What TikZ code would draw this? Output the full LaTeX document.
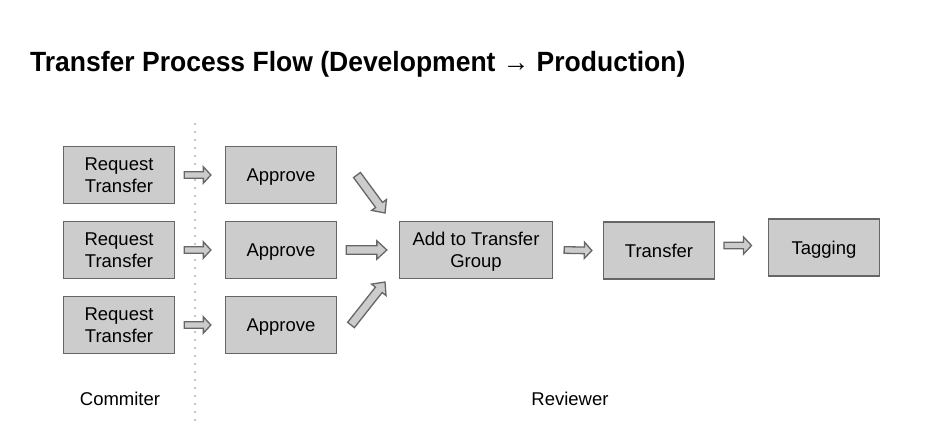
\documentclass[tikz,border=0pt]{standalone}
\usepackage{fontspec}
\setmainfont{Liberation Sans}
\usetikzlibrary{calc}
\definecolor{boxfill}{RGB}{204,204,204}
\definecolor{boxline}{RGB}{102,102,102}
\definecolor{dotcol}{RGB}{140,140,140}
% block arrow from #1 to #2, shaft half width #3, head half width #4, head length #5
\newcommand{\blockarr}[5]{%
  \coordinate (ba-h) at ($(#2)!#5!(#1)$);
  \draw[fatarrow] ($(#1)!#3!90:(#2)$) -- ($(ba-h)!#3!90:(#2)$) -- ($(ba-h)!#4!90:(#2)$) -- (#2)
    -- ($(ba-h)!#4!-90:(#2)$) -- ($(ba-h)!#3!-90:(#2)$) -- ($(#1)!#3!-90:(#2)$) -- cycle;}
\begin{document}
\begin{tikzpicture}[x=1pt,y=-1pt,
  box/.style={draw=boxline, fill=boxfill, line width=1.3pt, minimum width=111pt,
    minimum height=57pt, inner sep=0pt, align=center, text depth=0pt,
    font=\fontsize{18.5}{21.7}\selectfont},
  fatarrow/.style={draw=boxline, fill=boxfill, line width=1.3pt, line join=miter},
  lbl/.style={font=\fontsize{18.5}{21.7}\selectfont, anchor=base, inner sep=0pt},
  divider/.style={draw=dotcol, line width=1.8pt, line cap=round, dash pattern=on 0pt off 8pt}]
\useasboundingbox (0,0) rectangle (927,446);
% title
\node[anchor=base west, inner sep=0pt, font=\fontsize{26.5}{30}\selectfont\bfseries] (title) at (30,72)
  {\scalebox{1}[1.05]{Transfer Process Flow (Development → Production)}};
% divider
\coordinate (dtop) at (195,124);
\coordinate (dbot) at (195,421);
\draw[divider] (dtop) -- (dbot);
% boxes
\node[box] (r1) at (119,175) {Request\\Transfer};
\node[box] (r2) at (119,250) {Request\\Transfer};
\node[box] (r3) at (119,325) {Request\\Transfer};
\node[box] (a1) at (281,175) {Approve};
\node[box] (a2) at (281,250) {Approve};
\node[box] (a3) at (281,325) {Approve};
\node[box, minimum width=153pt] (g) at (476,250) {Add to Transfer\\Group};
\node[box] (t) at (659,250.5) {Transfer};
\node[box] (tag) at (824,247.5) {Tagging};
% arrow end points
\coordinate (s1) at ($(r1.east)+(9,0)$);  \coordinate (e1) at ($(a1.west)+(-14,0)$);
\coordinate (s2) at ($(r2.east)+(9,0)$);  \coordinate (e2) at ($(a2.west)+(-14,0)$);
\coordinate (s3) at ($(r3.east)+(9,0)$);  \coordinate (e3) at ($(a3.west)+(-14,0)$);
\coordinate (s4) at (357,175);  \coordinate (e4) at (385,213);
\coordinate (s5) at ($(a2.east)+(9,0)$);  \coordinate (e5) at ($(g.west)+(-12,0)$);
\coordinate (s6) at (351,325);  \coordinate (e6) at (385,282);
\coordinate (s7) at ($(g.east)+(11,0)$);  \coordinate (e7) at ($(t.west)+(-11,0)$);
\coordinate (s8) at (724,245.5);  \coordinate (e8) at (751.5,245.5);
% block arrows
\blockarr{s1}{e1}{3.3pt}{8.2pt}{7.5pt}
\blockarr{s2}{e2}{3.3pt}{8.2pt}{7.5pt}
\blockarr{s3}{e3}{3.3pt}{8.2pt}{7.5pt}
\blockarr{s4}{e4}{4.3pt}{9.2pt}{10pt}
\blockarr{s5}{e5}{4.3pt}{9.2pt}{10pt}
\blockarr{s6}{e6}{4.3pt}{9.2pt}{10pt}
\blockarr{s7}{e7}{3.3pt}{8.2pt}{7.5pt}
\blockarr{s8}{e8}{3.3pt}{8.6pt}{8pt}
% lane labels
\node[lbl] (commiter) at (120,406) {Commiter};
\node[lbl] (reviewer) at (570,406) {Reviewer};
\end{tikzpicture}
\end{document}
